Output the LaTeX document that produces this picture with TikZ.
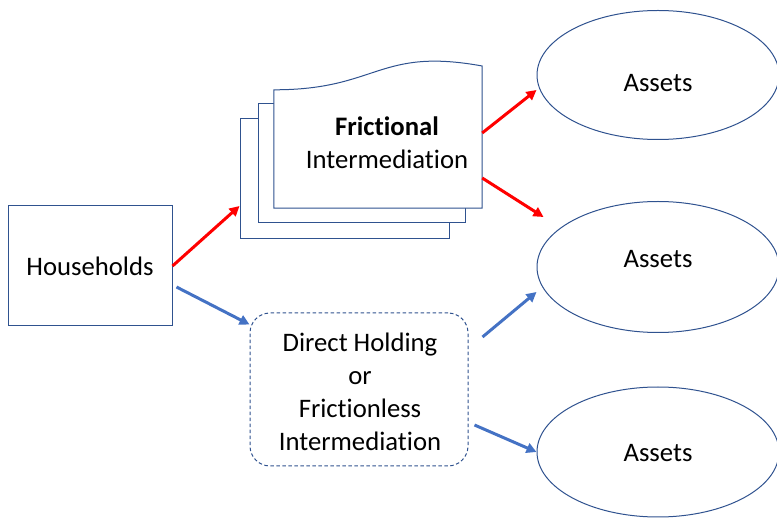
\documentclass[tikz,border=0pt]{standalone}
\usepackage{fontspec}
\setmainfont{Carlito}[Ligatures={NoCommon,NoContextual}]
\usetikzlibrary{arrows.meta,shapes.geometric}
\definecolor{outline}{HTML}{2F528F}
\definecolor{flowblue}{HTML}{4472C4}
\definecolor{flowred}{HTML}{FF0000}
\tikzset{
  txt/.style={font=\fontsize{26.7}{33}\selectfont, align=center, text=black},
  shapeline/.style={draw=outline, line width=1pt},
  page/.style={shapeline, fill=white, inner sep=0pt},
  assetbox/.style={ellipse, shapeline, minimum width=242pt, inner sep=0pt},
  redarrow/.style={draw=flowred, line width=3pt, -{Triangle[length=10pt,width=10pt]}},
  bluearrow/.style={draw=flowblue, line width=3pt, -{Triangle[length=10pt,width=10pt]}},
}
\begin{document}
\begin{tikzpicture}[x=1pt,y=-1pt]
\useasboundingbox (0,0) rectangle (777,518);

% households
\node[shapeline, minimum width=164pt, minimum height=120pt, inner sep=0pt, txt] (hh) at (90,266) {Households};

% stacked documents: frictional intermediation
\node[page, minimum width=209pt, minimum height=120pt] (p3) at (344.5,179) {};
\node[page, minimum width=207pt, minimum height=119pt] (p2) at (361.5,163.5) {};
\node[inner sep=0pt, minimum width=208pt, minimum height=118pt] (fi) at (378,149) {};
\draw[page] (fi.north west) .. controls (378,90) and (378,47) .. (fi.north east |- 0,66)
  -- (fi.south east) -- (fi.south west) -- cycle;
\node[txt] (fitext) at (387,143) {\textbf{Frictional}\\Intermediation};

% direct holding
\node[shapeline, dash pattern=on 3.5pt off 2.5pt, rounded corners=20pt,
      minimum width=218pt, minimum height=153pt, inner sep=0pt] (dh) at (359,389.5) {};
\node[txt] (dhtext) at (360,391.5) {Direct Holding\\or\\Frictionless\\Intermediation};

% assets
\node[assetbox, minimum height=129pt, label={[txt, yshift=-8pt]center:Assets}] (a1) at (658,75) {};
\node[assetbox, minimum height=131pt, label={[txt, yshift=8pt]center:Assets}] (a2) at (658,267) {};
\node[assetbox, minimum height=130pt, label={[txt, yshift=-1pt]center:Assets}] (a3) at (658,452) {};

% flows
\draw[redarrow] (hh.east) -- ([yshift=-27pt]p3.west);
\draw[bluearrow] ([xshift=4pt,yshift=-21pt]hh.east) -- ([yshift=-12pt]dh.north west);
\draw[redarrow] ([yshift=16pt]fi.east) -- ([yshift=-15pt]a1.west);
\draw[redarrow] ([yshift=-29pt]fi.east) -- ([xshift=7pt,yshift=50pt]a2.west);
\draw[bluearrow] ([xshift=14pt,yshift=52.5pt]dh.east) -- ([yshift=-25pt]a2.west);
\draw[bluearrow] ([xshift=6pt,yshift=-35.5pt]dh.east) -- (a3.west);
\end{tikzpicture}
\end{document}
